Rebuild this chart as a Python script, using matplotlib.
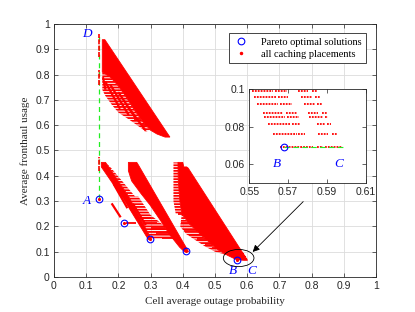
import matplotlib
matplotlib.use("Agg")
import matplotlib.pyplot as plt
from matplotlib.patches import Ellipse, Polygon
from matplotlib.lines import Line2D
from matplotlib.ticker import FuncFormatter

# ---------------- data ----------------
pareto_x = [0.140, 0.217, 0.298, 0.410, 0.568]
pareto_y = [0.310, 0.214, 0.150, 0.104, 0.069]

# dense regions of caching placements (outline vertices)
top_dense_x = [0.150, 0.158, 0.360, 0.345, 0.320, 0.300, 0.275, 0.250, 0.225, 0.200, 0.175, 0.150]
top_dense_y = [0.938, 0.938, 0.553, 0.553, 0.565, 0.580, 0.615, 0.660, 0.710, 0.755, 0.790, 0.810]
c2a_x = [0.147, 0.160, 0.232, 0.303, 0.293, 0.220, 0.147]
c2a_y = [0.453, 0.453, 0.318, 0.148, 0.148, 0.300, 0.435]
c2b_x = [0.231, 0.257, 0.262, 0.418, 0.405, 0.390, 0.360, 0.330, 0.298, 0.270, 0.241, 0.231]
c2b_y = [0.453, 0.453, 0.443, 0.100, 0.100, 0.118, 0.166, 0.225, 0.285, 0.330, 0.380, 0.420]
c3_x = [0.385, 0.400, 0.403, 0.412, 0.417, 0.601, 0.590, 0.566, 0.540, 0.510, 0.463, 0.420, 0.397, 0.391, 0.386]
c3_y = [0.453, 0.453, 0.435, 0.435, 0.430, 0.066, 0.066, 0.069, 0.085, 0.107, 0.159, 0.210, 0.250, 0.300, 0.380]

# sparse regions of caching placements (outline vertices)
top_sparse_x = [0.150, 0.175, 0.200, 0.225, 0.250, 0.275, 0.300, 0.285, 0.260, 0.230, 0.200, 0.180, 0.160, 0.150]
top_sparse_y = [0.810, 0.790, 0.755, 0.710, 0.660, 0.615, 0.580, 0.575, 0.598, 0.625, 0.650, 0.680, 0.715, 0.740]
c2a_sparse_x = [0.160, 0.178, 0.252, 0.232]
c2a_sparse_y = [0.453, 0.430, 0.318, 0.318]
c2_sparse_x = [0.232, 0.262, 0.300, 0.345, 0.372, 0.300]
c2_sparse_y = [0.318, 0.318, 0.245, 0.200, 0.152, 0.152]
c3_left_x = [0.371, 0.386, 0.386, 0.391, 0.397, 0.378, 0.371]
c3_left_y = [0.453, 0.453, 0.380, 0.300, 0.250, 0.250, 0.300]
c3_low_x = [0.397, 0.420, 0.463, 0.510, 0.540, 0.500, 0.470, 0.440, 0.410, 0.392]
c3_low_y = [0.250, 0.210, 0.159, 0.107, 0.085, 0.100, 0.120, 0.145, 0.170, 0.200]

# sparse diagonal stripes of placements
stripe_x0 = [0.152, 0.160, 0.175, 0.200, 0.225, 0.165, 0.185, 0.179, 0.225, 0.245]
stripe_y0 = [0.790, 0.770, 0.760, 0.730, 0.680, 0.420, 0.368, 0.291, 0.300, 0.290]
stripe_x1 = [0.160, 0.205, 0.232, 0.255, 0.285, 0.205, 0.228, 0.207, 0.262, 0.285]
stripe_y1 = [0.740, 0.665, 0.640, 0.625, 0.578, 0.330, 0.272, 0.236, 0.225, 0.205]

# horizontal runs of placements
run_y  = [0.215, 0.235, 0.215, 0.195, 0.175, 0.155, 0.250, 0.215, 0.185, 0.165, 0.150, 0.130, 0.115, 0.620, 0.600]
run_x0 = [0.225, 0.262, 0.280, 0.300, 0.318, 0.335, 0.385, 0.395, 0.405, 0.420, 0.445, 0.470, 0.490, 0.250, 0.270]
run_x1 = [0.255, 0.300, 0.320, 0.345, 0.365, 0.378, 0.425, 0.440, 0.455, 0.470, 0.495, 0.510, 0.520, 0.270, 0.295]

# placements on x = 0.14 (vertical A-D)
vert_x = 0.140
vert_y0 = [0.870, 0.760, 0.420]
vert_y1 = [0.962, 0.820, 0.475]

# rows near B-C (zoomed view)
zoom_rows_y = [0.0993, 0.0958, 0.0922, 0.0873, 0.0850, 0.0814, 0.0763, 0.0692]
zoom_rows_segs = [
    [(0.5512, 0.5624), (0.5632, 0.5693), (0.5753, 0.5804), (0.5821, 0.5847)],
    [(0.5524, 0.5641), (0.5650, 0.5700), (0.5764, 0.5824), (0.5841, 0.5867)],
    [(0.5541, 0.5650), (0.5658, 0.5718), (0.5782, 0.5837), (0.5851, 0.5877)],
    [(0.5570, 0.5675), (0.5689, 0.5744), (0.5804, 0.5856), (0.5873, 0.5899)],
    [(0.5577, 0.5684), (0.5693, 0.5758), (0.5810, 0.5882), (0.5890, 0.5907)],
    [(0.5598, 0.5710), (0.5718, 0.5761), (0.5851, 0.5890), (0.5902, 0.5919)],
    [(0.5620, 0.5744), (0.5753, 0.5787), (0.5856, 0.5907), (0.5924, 0.5950)],
    [(0.5658, 0.5830), (0.5847, 0.5882), (0.5890, 0.5976)],
]

A_pt = (0.140, 0.310)
D_pt = (0.140, 0.962)
B_pt = (0.568, 0.069)
C_pt = (0.600, 0.069)

xticks = [0, 0.1, 0.2, 0.3, 0.4, 0.5, 0.6, 0.7, 0.8, 0.9, 1]
yticks = xticks
in_xticks = [0.55, 0.57, 0.59, 0.61]
in_yticks = [0.06, 0.08, 0.1]

RED = "#ff0000"
BLUE = "#0000ff"
GREEN = "#22ee22"
AXC = "#262626"
SANS = "Liberation Sans"
SERIF = "Liberation Serif"

plt.rcParams["hatch.linewidth"] = 1.3
plt.rcParams["hatch.color"] = RED

fig = plt.figure(figsize=(4.15, 3.12), dpi=100)
ax = fig.add_axes([0.1301, 0.1122, 0.7759, 0.8109])

fmt = FuncFormatter(lambda v, p: "%g" % v)

def style_axes(a, fs):
    a.tick_params(direction="in", length=3, width=0.5, top=True, right=True,
                  labelsize=fs, colors=AXC, pad=3)
    for lab in a.get_xticklabels() + a.get_yticklabels():
        lab.set_family(SANS)
    for s in a.spines.values():
        s.set_linewidth(0.6)
        s.set_color(AXC)

ax.set_xlim(0, 1)
ax.set_ylim(0, 1)
ax.set_xticks(xticks)
ax.set_yticks(yticks)
ax.xaxis.set_major_formatter(fmt)
ax.yaxis.set_major_formatter(fmt)
ax.grid(True, color="#dcdcdc", lw=0.6)
ax.set_axisbelow(True)
style_axes(ax, 7.5)

# sparse regions (hatched rows of points)
for px, py in [(top_sparse_x, top_sparse_y), (c2a_sparse_x, c2a_sparse_y),
               (c2_sparse_x, c2_sparse_y), (c3_left_x, c3_left_y), (c3_low_x, c3_low_y)]:
    ax.add_patch(Polygon(list(zip(px, py)), closed=True, fc="none", ec=RED, lw=0,
                         hatch="------", zorder=2))

# dense regions
for px, py in [(top_dense_x, top_dense_y), (c2a_x, c2a_y), (c2b_x, c2b_y), (c3_x, c3_y)]:
    ax.add_patch(Polygon(list(zip(px, py)), closed=True, fc=RED, ec=RED, lw=0.6, zorder=2))

for x0, y0, x1, y1 in zip(stripe_x0, stripe_y0, stripe_x1, stripe_y1):
    ax.plot([x0, x1], [y0, y1], color=RED, lw=1.6, solid_capstyle="butt", zorder=2)

for y, x0, x1 in zip(run_y, run_x0, run_x1):
    ax.plot([x0, x1], [y, y], color=RED, lw=1.3, solid_capstyle="butt", zorder=2)

for y, segs in zip(zoom_rows_y, zoom_rows_segs):
    for x0, x1 in segs:
        ax.plot([x0, x1], [y, y], color=RED, lw=0.8, zorder=2)

# A-D green dashed and placements on it
ax.plot([A_pt[0], D_pt[0]], [A_pt[1], D_pt[1]], color=GREEN, lw=0.9, ls=(0, (4, 3)), zorder=3)
for y0, y1 in zip(vert_y0, vert_y1):
    ax.plot([vert_x, vert_x], [y0, y1], color=RED, lw=1.2, ls=(0, (3, 0.8)), zorder=3)

# pareto points
ax.plot(pareto_x, pareto_y, ls="none", marker=".", ms=2.5, color=RED, zorder=4)
ax.plot(pareto_x, pareto_y, ls="none", marker="o", ms=4.8, mfc="none", mec=BLUE, mew=0.8, zorder=5)

tkw = dict(color=BLUE, family=SERIF, style="italic", fontsize=9.5, ha="center", va="center", zorder=6)
ax.text(0.103, 0.962, "D", **tkw)
ax.text(0.103, 0.300, "A", **tkw)
ax.text(0.556, 0.025, "B", **tkw)
ax.text(0.613, 0.022, "C", **tkw)

ax.add_patch(Ellipse((0.5735, 0.075), 0.095, 0.068, fill=False, ec="black", lw=0.6, zorder=6))
ax.annotate("", xy=(0.617, 0.099), xytext=(0.774, 0.298),
            arrowprops=dict(arrowstyle="-|>", color="black", lw=0.6, mutation_scale=10,
                            shrinkA=0, shrinkB=0), zorder=6)

ax.set_xlabel("Cell average outage probability", family=SERIF, fontsize=8, color=AXC, labelpad=4)
ax.set_ylabel("Average fronthaul usage", family=SERIF, fontsize=8, color=AXC, labelpad=4)

handles = [Line2D([], [], ls="none", marker="o", ms=4.8, mfc="none", mec=BLUE, mew=0.8),
           Line2D([], [], ls="none", marker=".", ms=3, color=RED)]
leg = ax.legend(handles, ["Pareto optimal solutions", "all caching placements"],
                loc="upper right", bbox_to_anchor=(0.969, 0.964), borderaxespad=0,
                fancybox=False, framealpha=1, edgecolor=AXC,
                prop=dict(family=SERIF, size=7.5), handlelength=1.5,
                handletextpad=1.2, borderpad=0.4, labelspacing=0.3)
leg.get_frame().set_linewidth(0.6)

# inset
ai = fig.add_axes([0.6007, 0.4144, 0.2805, 0.2994])
ai.set_xlim(0.55, 0.61)
ai.set_ylim(0.05, 0.1)
ai.set_xticks(in_xticks)
ai.set_yticks(in_yticks)
ai.xaxis.set_major_formatter(fmt)
ai.yaxis.set_major_formatter(fmt)
style_axes(ai, 7.5)
for y, segs in zip(zoom_rows_y, zoom_rows_segs):
    for x0, x1 in segs:
        ai.plot([x0, x1], [y, y], color=RED, lw=1.3, ls=(0, (1, 0.6)), zorder=2)
ai.plot([B_pt[0], C_pt[0]], [B_pt[1], C_pt[1]], color=GREEN, lw=0.8, ls=(0, (5, 3)), zorder=3)
ai.plot([B_pt[0]], [B_pt[1]], ls="none", marker="o", ms=4.8, mfc="none", mec=BLUE, mew=0.8, zorder=4)
ai.text(0.564, 0.060, "B", **tkw)
ai.text(0.596, 0.060, "C", **tkw)

fig.savefig("out.png", dpi=100)
